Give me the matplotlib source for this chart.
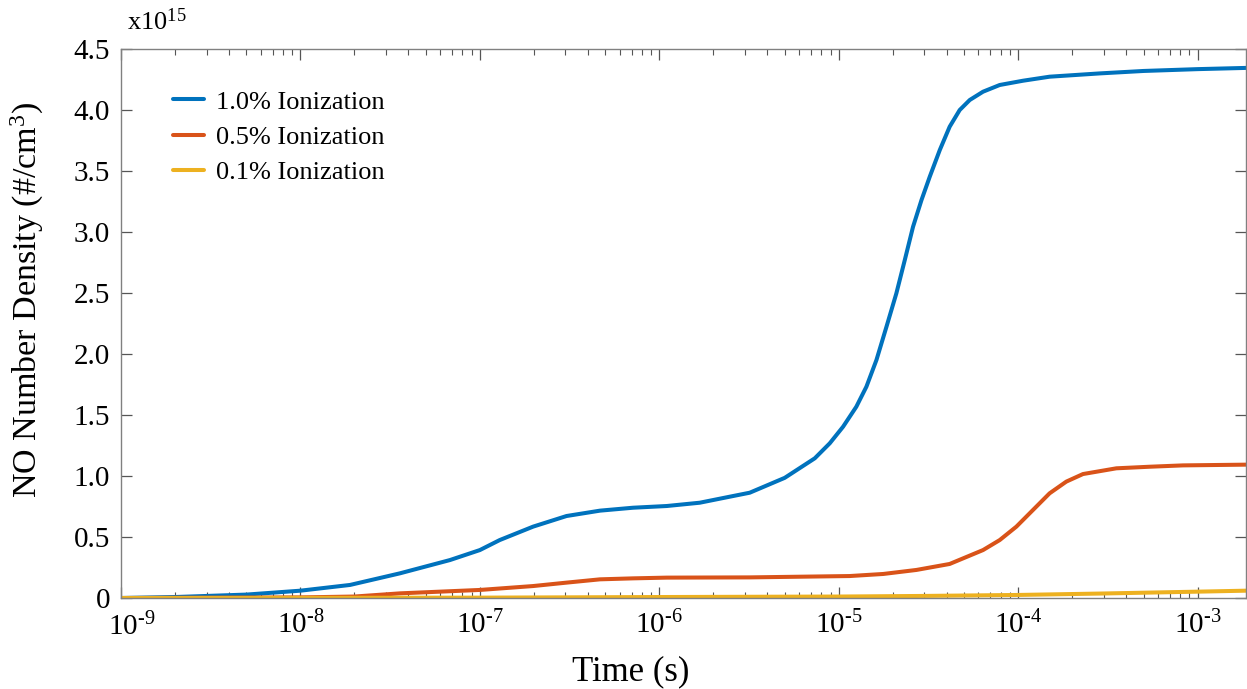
import matplotlib
matplotlib.use("Agg")
import matplotlib.pyplot as plt
import numpy as np
from matplotlib.ticker import FixedLocator, NullFormatter, FuncFormatter

plt.rcParams['font.family'] = ['Liberation Serif', 'DejaVu Serif']
plt.rcParams['mathtext.fontset'] = 'custom'
plt.rcParams['mathtext.rm'] = 'Liberation Serif'
plt.rcParams['mathtext.it'] = 'Liberation Serif:italic'

# MATLAB default colours
colors = ['#0072BD', '#D95319', '#EDB120']

# values (density in units of 1e15 #/cm^3)
t_blue = [1e-9, 2e-9, 5e-9, 1e-8, 1.89e-8, 3.58e-8, 6.81e-8, 1e-7, 1.29e-7,
          1.98e-7, 3.04e-7, 4.67e-7, 7.14e-7, 1.10e-6, 1.68e-6, 2.58e-6,
          3.19e-6, 5e-6, 7.35e-6, 8.91e-6, 1.057e-5, 1.253e-5, 1.426e-5,
          1.622e-5, 1.845e-5, 2.094e-5, 2.333e-5, 2.594e-5, 2.891e-5,
          3.214e-5, 3.656e-5, 4.15e-5, 4.721e-5, 5.37e-5, 6.368e-5, 7.889e-5,
          1.064e-4, 1.496e-4, 2.85e-4, 5e-4, 1e-3, 1.86e-3]
n_blue = [0.0, 0.008, 0.028, 0.060, 0.107, 0.202, 0.311, 0.393, 0.475,
          0.585, 0.672, 0.716, 0.740, 0.754, 0.781, 0.836,
          0.863, 0.985, 1.145, 1.268, 1.404, 1.568, 1.732,
          1.951, 2.224, 2.497, 2.770, 3.043, 3.262,
          3.453, 3.672, 3.863, 4.000, 4.082, 4.150, 4.205,
          4.240, 4.273, 4.300, 4.320, 4.335, 4.345]

t_red = [1e-9, 1e-8, 2e-8, 3.58e-8, 1e-7, 1.98e-7, 3.04e-7, 4.67e-7, 7.14e-7,
         1.1e-6, 3.19e-6, 1.15e-5, 1.77e-5, 2.71e-5, 4.15e-5, 6.37e-5,
         7.89e-5, 9.77e-5, 1.208e-4, 1.496e-4, 1.854e-4, 2.296e-4, 3.524e-4,
         5.408e-4, 8.28e-4, 1.86e-3]
n_red = [0.0, 0.005, 0.012, 0.038, 0.066, 0.098, 0.126, 0.153, 0.161,
         0.167, 0.169, 0.180, 0.197, 0.230, 0.279, 0.393,
         0.475, 0.585, 0.721, 0.858, 0.954, 1.016, 1.063,
         1.076, 1.087, 1.093]

t_yellow = [1e-9, 1e-7, 1e-6, 1e-5, 3e-5, 1e-4, 3e-4, 1e-3, 1.86e-3]
n_yellow = [0.0, 0.003, 0.008, 0.012, 0.017, 0.025, 0.037, 0.052, 0.060]

labels = ['1.0% Ionization', '0.5% Ionization', '0.1% Ionization']

xtick_exps = [-9, -8, -7, -6, -5, -4, -3]
yticks = [0, 0.5, 1.0, 1.5, 2.0, 2.5, 3.0, 3.5, 4.0, 4.5]
ytick_labels = ['0', '0.5', '1.0', '1.5', '2.0', '2.5', '3.0', '3.5', '4.0', '4.5']

fig = plt.figure(figsize=(12.47, 6.89), dpi=100)
ax = fig.add_axes([121 / 1247, 1 - 598 / 689, 1125 / 1247, 549 / 689])

for t, n, c, lab in zip([t_blue, t_red, t_yellow], [n_blue, n_red, n_yellow],
                        colors, labels):
    ax.plot(t, n, color=c, lw=2.9, label=lab, solid_capstyle='round',
            solid_joinstyle='round')

ax.set_xscale('log')
ax.set_xlim(1e-9, 1.86e-3)
ax.set_ylim(0, 4.5)


def pow_text(e):
    return r'10$^{%s}$' % str(e).replace('-', '\u2010')


def pow_label(x, pos):
    e = int(round(np.log10(x)))
    if e == -9:
        # drawn separately, nudged inside like the original
        return ''
    return pow_text(e)


major = [10.0 ** e for e in xtick_exps]
minor = [m * 10.0 ** e for e in xtick_exps for m in range(2, 10)]
minor = [v for v in minor if v <= 1.86e-3]
ax.xaxis.set_major_locator(FixedLocator(major))
ax.xaxis.set_major_formatter(FuncFormatter(pow_label))
ax.xaxis.set_minor_locator(FixedLocator(minor))
ax.xaxis.set_minor_formatter(NullFormatter())
ax.yaxis.set_major_locator(FixedLocator(yticks))
ax.set_yticklabels(ytick_labels)

ax.tick_params(which='both', direction='in', top=True, right=True,
               color='#555555', labelsize=21, labelcolor='black')
ax.tick_params(which='major', length=8, width=0.9)
ax.tick_params(which='minor', length=4, width=0.8)
ax.tick_params(axis='x', pad=9)
ax.tick_params(axis='y', pad=8)
for sp in ax.spines.values():
    sp.set_color('#808080')
    sp.set_linewidth(1.0)

ax.annotate(pow_text(-9), xy=(0, 0), xycoords='axes fraction',
            xytext=(-9.5, -11), textcoords='offset points',
            ha='left', va='top', fontsize=21)

fig.text(631 / 1247, 1 - 672 / 689, 'Time (s)', fontsize=25,
         ha='center', va='center')
fig.text(27 / 1247, 1 - 300 / 689, 'NO Number Density (#/cm$^{3}$)',
         fontsize=24.5, rotation=90, ha='center', va='center')

ax.text(0.005, 1.025, r'x10$^{15}$', transform=ax.transAxes, fontsize=19,
        ha='left', va='bottom')

ax.legend(loc='upper left', bbox_to_anchor=(0.046, 0.925), frameon=False,
          fontsize=19, handlelength=1.2, handletextpad=0.45,
          labelspacing=0.45, borderpad=0, borderaxespad=0)

fig.savefig('out.png', dpi=100)
plt.close(fig)
